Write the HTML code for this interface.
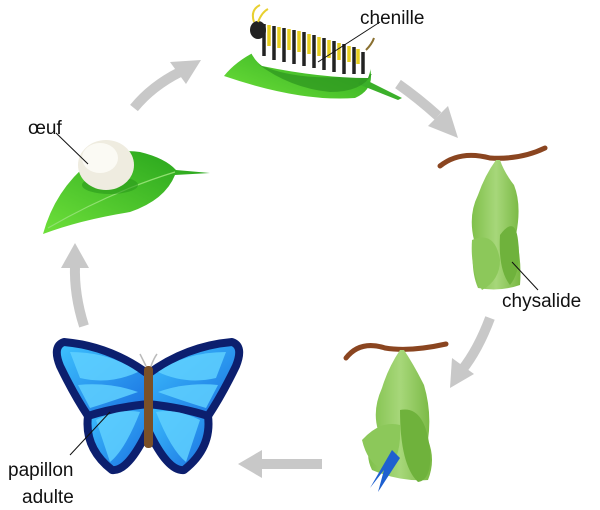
<!DOCTYPE html>
<html><head><meta charset="utf-8"><style>
html,body{margin:0;padding:0;background:#fff;width:600px;height:510px;overflow:hidden}
text{font-family:"Liberation Sans",sans-serif;fill:#111}
</style></head><body>
<svg width="600" height="510" viewBox="0 0 600 510" xmlns="http://www.w3.org/2000/svg">
<defs>
<linearGradient id="lf" x1="0" y1="1" x2="1" y2="0"><stop offset="0" stop-color="#6ee03a"/><stop offset="1" stop-color="#22a01a"/></linearGradient>
<linearGradient id="ch" x1="0" y1="0" x2="1" y2="0"><stop offset="0" stop-color="#7fc04a"/><stop offset="0.5" stop-color="#a7d77a"/><stop offset="1" stop-color="#78b842"/></linearGradient>
<linearGradient id="wg" x1="0" y1="0" x2="1" y2="1"><stop offset="0" stop-color="#3ec4ff"/><stop offset="1" stop-color="#1a6fe0"/></linearGradient>
</defs>
<g fill="none" stroke="#c8c8c8" stroke-width="10">
<path d="M134 108 Q152 86 180 72"/>
<path d="M398 84 Q418 98 438 116"/>
<path d="M490 318 Q478 350 462 370"/>
<path d="M322 464 L262 464"/>
<path d="M84 326 Q74 295 75 265"/>
</g>
<g fill="#c8c8c8">
<polygon points="201,60 170,62 186,84"/>
<polygon points="458,138 448,106 428,126"/>
<polygon points="450,388 452,358 474,374"/>
<polygon points="238,464 262,450 262,478"/>
<polygon points="75,243 61,268 89,268"/>
</g>
<!-- egg leaf -->
<path d="M43 234 Q55 190 90 162 Q115 148 140 152 Q165 158 176 170 L210 173 L175 175 Q165 200 130 212 Q80 220 43 234Z" fill="url(#lf)"/>
<path d="M48 228 Q110 192 175 172" stroke="#90e070" stroke-width="1.2" fill="none"/>
<ellipse cx="110" cy="185" rx="28" ry="9" fill="#2a9a1a" opacity="0.6"/>
<ellipse cx="106" cy="165" rx="28" ry="25" fill="#efece0"/>
<ellipse cx="100" cy="158" rx="18" ry="15" fill="#fbfaf4"/>
<line x1="56" y1="133" x2="88" y2="164" stroke="#111" stroke-width="1"/>
<text x="28" y="134" font-size="19">œuf</text>
<!-- caterpillar leaf -->
<path d="M224 76 Q245 50 290 40 Q340 35 368 62 Q378 88 355 98 Q300 102 224 76Z" fill="url(#lf)"/>
<path d="M362 78 L402 98 L398 100 L358 84Z" fill="#3bb02a"/>
<path d="M258 64 Q300 84 372 74 Q362 92 330 92 Q290 88 258 64Z" fill="#2c9420" opacity="0.7"/>
<path d="M250 30 Q300 28 362 48 Q375 62 368 78 Q320 78 262 66 Q244 52 250 30Z" fill="#fff"/>
<g stroke="#222" stroke-width="3.5">
<line x1="264" y1="24" x2="264" y2="56"/><line x1="274" y1="26" x2="274" y2="60"/><line x1="284" y1="28" x2="284" y2="62"/><line x1="294" y1="30" x2="294" y2="64"/><line x1="304" y1="32" x2="304" y2="66"/><line x1="314" y1="35" x2="314" y2="68"/><line x1="324" y1="38" x2="324" y2="70"/><line x1="334" y1="41" x2="334" y2="72"/><line x1="344" y1="44" x2="344" y2="74"/><line x1="354" y1="47" x2="354" y2="74"/><line x1="363" y1="52" x2="363" y2="74"/>
</g>
<g stroke="#e8cf20" stroke-width="3.5">
<line x1="269" y1="25" x2="269" y2="46"/><line x1="279" y1="27" x2="279" y2="48"/><line x1="289" y1="29" x2="289" y2="50"/><line x1="299" y1="31" x2="299" y2="52"/><line x1="309" y1="34" x2="309" y2="54"/><line x1="319" y1="37" x2="319" y2="56"/><line x1="329" y1="40" x2="329" y2="58"/><line x1="339" y1="43" x2="339" y2="60"/><line x1="349" y1="46" x2="349" y2="62"/><line x1="358" y1="49" x2="358" y2="64"/>
</g>
<ellipse cx="258" cy="30" rx="8" ry="9" fill="#222"/>
<path d="M366 50 Q372 44 374 38" stroke="#8a7030" stroke-width="2" fill="none"/>
<path d="M254 22 Q250 10 260 5 M258 22 Q262 12 268 9" stroke="#e8d030" stroke-width="2" fill="none"/>
<line x1="380" y1="22" x2="318" y2="62" stroke="#111" stroke-width="1"/>
<text x="360" y="24" font-size="19">chenille</text>
<!-- chrysalis 1 -->
<path d="M440 166 Q460 150 490 158 Q520 160 545 148" stroke="#8a4520" stroke-width="5" fill="none" stroke-linecap="round"/>
<path d="M496 160 Q485 175 478 195 Q468 215 474 240 Q470 270 478 288 Q500 292 520 285 Q522 262 516 235 Q522 205 514 185 Q504 172 500 160Z" fill="url(#ch)"/>
<path d="M472 240 Q495 230 500 260 Q500 280 482 290 Q470 270 472 240Z" fill="#8cc85a"/>
<path d="M500 235 Q515 215 518 240 Q522 270 510 285 Q498 270 500 235Z" fill="#6fb23c"/>
<line x1="512" y1="262" x2="538" y2="290" stroke="#111" stroke-width="1"/>
<text x="502" y="307" font-size="19">chysalide</text>
<!-- chrysalis 2 -->
<path d="M346 358 Q360 340 385 348 Q410 352 446 344" stroke="#8a4520" stroke-width="5" fill="none" stroke-linecap="round"/>
<path d="M400 350 Q388 368 382 388 Q372 410 378 430 Q362 450 372 470 Q400 482 428 480 Q436 460 428 440 Q432 412 424 385 Q414 365 404 350Z" fill="url(#ch)"/>
<path d="M362 440 Q380 420 400 425 Q402 460 385 470 Q368 465 362 440Z" fill="#8cc85a"/>
<path d="M400 410 Q425 405 430 450 Q432 480 418 482 Q400 465 400 410Z" fill="#6fb23c"/>
<path d="M392 450 L370 488 L384 470 L378 492 L400 458Z" fill="#1e60d0"/>
<!-- butterfly -->
<g stroke="#0c1f6e" stroke-width="8" stroke-linejoin="round" fill="url(#wg)">
<path d="M148 400 Q100 400 88 416 Q84 448 112 470 Q128 472 148 430Z"/>
<path d="M148 400 Q196 400 208 416 Q212 448 184 470 Q168 472 148 430Z"/>
<path d="M148 374 Q110 346 64 342 Q52 346 60 366 Q74 395 88 416 Q112 408 148 404Z"/>
<path d="M148 374 Q186 346 232 342 Q244 346 236 366 Q222 395 208 416 Q184 408 148 404Z"/>
</g>
<g fill="#5fd0ff" opacity="0.85">
<path d="M70 352 Q110 352 138 372 Q110 385 80 378Z"/><path d="M226 352 Q186 352 158 372 Q186 385 216 378Z"/>
<path d="M78 385 Q110 382 138 392 Q110 402 90 408Z"/><path d="M218 385 Q186 382 158 392 Q186 402 206 408Z"/>
<path d="M96 420 Q120 408 140 412 Q125 450 110 462Z"/><path d="M200 420 Q176 408 156 412 Q171 450 186 462Z"/>
</g>
<rect x="144" y="366" width="9" height="82" rx="4" fill="#7a5028"/>
<path d="M146 366 Q142 358 140 354 M151 366 Q154 358 157 354" stroke="#bbb" stroke-width="1.5" fill="none"/>
<line x1="70" y1="455" x2="110" y2="412" stroke="#111" stroke-width="1"/>
<text x="8" y="476" font-size="19">papillon</text>
<text x="22" y="503" font-size="19">adulte</text>
</svg>
</body></html>
